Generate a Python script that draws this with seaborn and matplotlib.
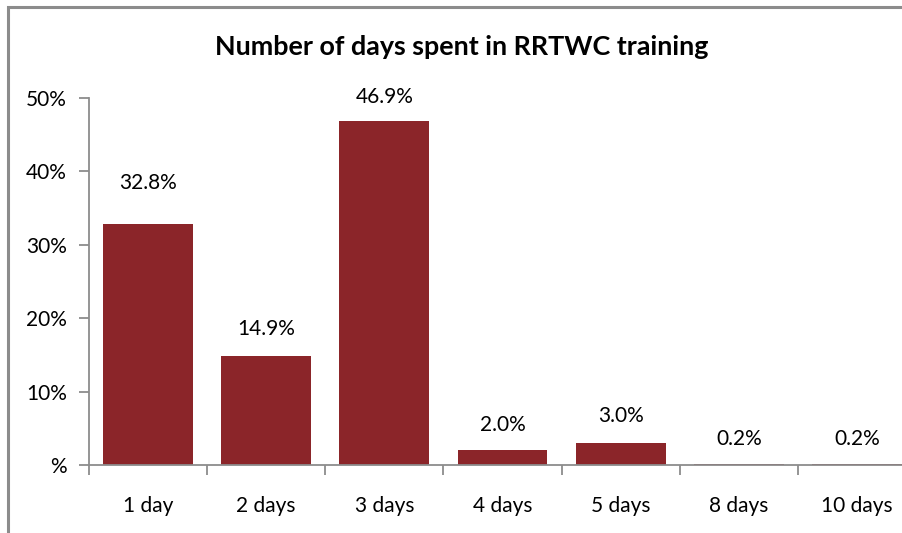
import matplotlib
matplotlib.use("Agg")
import matplotlib.pyplot as plt
import seaborn as sns
import pandas as pd
from matplotlib.patches import Rectangle

categories = ["1 day", "2 days", "3 days", "4 days", "5 days", "8 days", "10 days"]
values = [32.8, 14.9, 46.9, 2.0, 3.0, 0.2, 0.2]
ytick_vals = [0, 10, 20, 30, 40, 50]
ytick_labels = ["%", "10%", "20%", "30%", "40%", "50%"]
title = "Number of days spent in RRTWC training"
# label gap above bar top (pixels) -- styling, as placed in the original
label_gap_px = [41, 27, 24, 25, 27, 25, 25]

sns.set_theme(style="white")
plt.rcParams['font.family'] = ['Lato', 'DejaVu Sans']

W, H = 903, 533
fig = plt.figure(figsize=(W / 100, H / 100), dpi=100)
# axes: x from 89 to 916 px, y from 98 (50%) to 465 (0)
ax = fig.add_axes([89 / W, 1 - 465 / H, (916 - 89) / W, (465 - 98) / H])

df = pd.DataFrame({"cat": categories, "val": values})
bar_color = "#8B2529"
sns.barplot(data=df, x="cat", y="val", color=bar_color, width=0.76, ax=ax,
            saturation=1, edgecolor="none")

ax.set_xlim(-0.5, len(categories) - 0.5)
ax.set_ylim(0, 50)
ax.set_yticks(ytick_vals)
ax.set_yticklabels(ytick_labels)
ax.set_xlabel("")
ax.set_ylabel("")

for s in ["top", "right"]:
    ax.spines[s].set_visible(False)
for s in ["left", "bottom"]:
    ax.spines[s].set_color("#8c8c8c")
    ax.spines[s].set_linewidth(1.3)

# x ticks at category boundaries
ax.set_xticks(range(len(categories)))
ax.set_xticklabels(categories)
ax.tick_params(axis="x", which="major", bottom=True, length=0, pad=22, labelsize=15, colors="black")
ax.set_xticks([i + 0.5 for i in range(-1, len(categories))], minor=True)
ax.tick_params(axis="x", which="minor", bottom=True, length=7, width=1.3, color="#8c8c8c",
               direction="out")
ax.tick_params(axis="y", which="major", left=True, length=7, width=1.3, color="#8c8c8c",
               direction="out", pad=9, labelsize=15, labelcolor="black")

for i, v in enumerate(values):
    ax.annotate(f"{v:.1f}%", (i, v), xytext=(0, label_gap_px[i] * 0.72), textcoords="offset points",
                ha="center", va="center", fontsize=15, color="black", annotation_clip=False)

fig.text(0.5 * (213 + 710) / W, 1 - 47 / H, title, ha="center", va="center",
         fontsize=19.4, fontweight="bold", color="black")

fig.patches.append(Rectangle((8 / W, -0.1), 1.2, 1 - 7 / H + 0.1, transform=fig.transFigure,
                             fill=False, edgecolor="#8c8c8c", linewidth=2.2))

fig.savefig("out.png", dpi=100)
